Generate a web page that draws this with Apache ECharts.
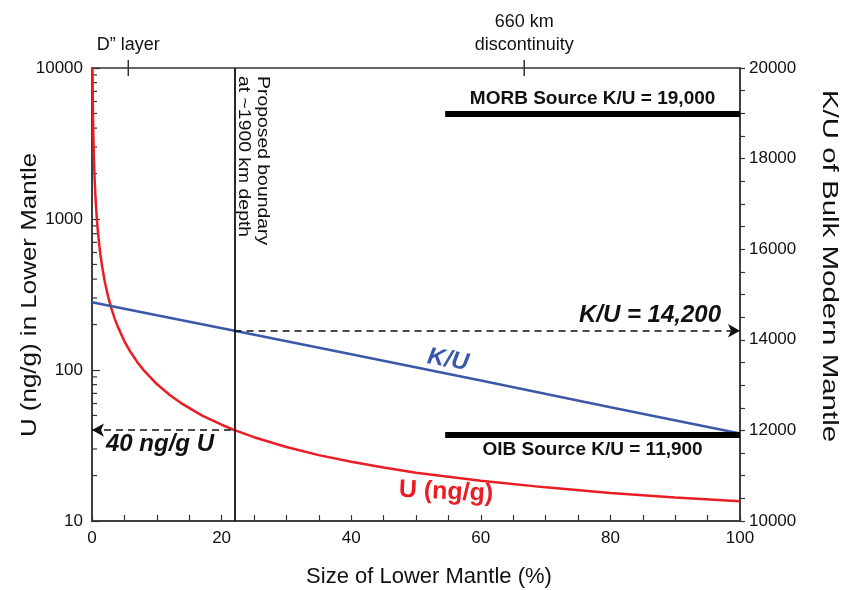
<!DOCTYPE html>
<html>
<head>
<meta charset="utf-8">
<script src="https://cdn.jsdelivr.net/npm/echarts@6/dist/echarts.min.js"></script>
<style>
  html, body { margin: 0; padding: 0; background: #fff; }
  #chart { width: 843px; height: 590px; }
</style>
</head>
<body>
<div id="chart"></div>
<script>
// U в нижней мантии (ng/g) по размеру нижней мантии (%)
const xU = [0.075, 0.09, 0.11, 0.13, 0.16, 0.2, 0.25, 0.3, 0.4, 0.5, 0.6, 0.75, 0.9, 1.1, 1.3, 1.6, 2, 2.5, 3, 3.5, 4, 5, 6, 7, 8, 10, 12, 14, 17, 20, 22, 25, 30, 35, 40, 45, 50, 60, 70, 80, 90, 100];
const uValues = [10000, 8306, 6797, 5752, 4675, 3741, 2994, 2496, 1874, 1500, 1251, 1002, 836, 685, 581, 473, 380, 305, 255, 219, 193, 155, 130.5, 112.7, 99.4, 80.7, 68.3, 59.4, 49.9, 43.4, 40, 35.9, 30.9, 27.3, 24.7, 22.6, 20.9, 18.5, 16.7, 15.3, 14.3, 13.5];

// K/U всей мантии
const xKU = [0, 10, 22, 40, 60, 80, 100];
const kuValues = [14830, 14540, 14200, 13680, 13100, 12510, 11930];

// Граница и источники
const boundaryX = 22;
const boundaryU = 40;
const boundaryKU = 14200;
const morbRange = [54.5, 100];
const morbKU = 19000;
const oibRange = [54.5, 100];
const oibKU = 11900;

// Метки на верхней оси
const topMarkX = [5.6, 66.7];
const topMarkNames = ["D\u201D layer", "660 km\ndiscontinuity"];

// Мелкие деления логарифмической оси
const logMinorTicks = [20, 30, 40, 50, 60, 70, 80, 90, 200, 300, 400, 500, 600, 700, 800, 900, 2000, 3000, 4000, 5000, 6000, 7000, 8000, 9000];

const FONT = "Liberation Sans, Arial, sans-serif";
const RED = "#ec1c24";
const BLUE = "#3b58a8";
const INK = "#111";

const chart = echarts.init(document.getElementById("chart"));

const option = {
    backgroundColor: "#fff",
    animation: false,
    textStyle: { fontFamily: FONT },
    grid: {
        left: 92, right: 103, top: 68, bottom: 69,
        show: true, borderColor: "#333", borderWidth: 1.5,
        outerBoundsMode: "none"
    },
    xAxis: {
        type: "value",
        min: 0, max: 100, interval: 20,
        name: "Size of Lower Mantle (%)",
        nameLocation: "middle",
        nameGap: 45,
        nameMoveOverlap: false,
        nameTextStyle: { fontSize: 22, color: INK, fontFamily: FONT, padding: [0, 0, 0, 26] },
        axisLine: { lineStyle: { color: "#333", width: 1.5 } },
        axisTick: { inside: true, length: 6, lineStyle: { color: "#333", width: 1.2 } },
        minorTick: { show: true, splitNumber: 4, length: 6, lineStyle: { color: "#333", width: 1.2 } },
        axisLabel: { fontSize: 17, color: INK, margin: 9, fontFamily: FONT },
        splitLine: { show: false }
    },
    yAxis: [
        {
            type: "log",
            logBase: 10,
            min: 10, max: 10000,
            position: "left",
            axisLine: { show: true, lineStyle: { color: "#333", width: 1.5 } },
            axisTick: { show: true, inside: true, length: 8, lineStyle: { color: "#333", width: 1.2 } },
            axisLabel: { fontSize: 17, color: INK, margin: 9, fontFamily: FONT, formatter: (v) => String(Math.round(v)) },
            splitLine: { show: false }
        },
        {
            type: "value",
            min: 10000, max: 20000, interval: 2000,
            position: "right",
            axisLine: { show: true, lineStyle: { color: "#333", width: 1.5 } },
            axisTick: { show: true, inside: false, length: 5, lineStyle: { color: "#333", width: 1.2 } },
            minorTick: { show: true, splitNumber: 4, length: 5, lineStyle: { color: "#333", width: 1.2 } },
            axisLabel: { fontSize: 17, color: INK, margin: 9, fontFamily: FONT, formatter: (v) => String(v) },
            splitLine: { show: false }
        }
    ],
    series: [
        {
            name: "U (ng/g)",
            type: "line",
            yAxisIndex: 0,
            data: xU.map((x, i) => [x, uValues[i]]),
            showSymbol: false,
            smooth: false,
            lineStyle: { color: RED, width: 2.5 },
            z: 3,
            markLine: {
                silent: true,
                animation: false,
                data: [
                    // вертикальная граница
                    [
                        { coord: [boundaryX, 10], symbol: "none", lineStyle: { type: "solid", color: "#111", width: 1.8 }, label: { show: false } },
                        { coord: [boundaryX, 10000], symbol: "none" }
                    ],
                    // стрелка 40 ng/g U
                    [
                        {
                            coord: [0, boundaryU], symbol: "arrow", symbolSize: [10, 12],
                            lineStyle: { type: [7, 5], color: "#111", width: 1.5 },
                            label: {
                                show: true, position: "insideStartBottom",
                                formatter: "40 ng/g U",
                                fontSize: 24, fontWeight: "bold", fontStyle: "italic",
                                color: "#111", fontFamily: FONT,
                                padding: [0, 0, 0, 12], distance: 2
                            }
                        },
                        { coord: [boundaryX, boundaryU], symbol: "none" }
                    ]
                ]
            }
        },
        {
            name: "K/U",
            type: "line",
            yAxisIndex: 1,
            data: xKU.map((x, i) => [x, kuValues[i]]),
            showSymbol: false,
            lineStyle: { color: BLUE, width: 2.5 },
            z: 4,
            markLine: {
                silent: true,
                animation: false,
                data: [
                    // стрелка K/U = 14,200
                    [
                        {
                            coord: [boundaryX, boundaryKU], symbol: "none",
                            lineStyle: { type: [7, 5], color: "#111", width: 1.5 },
                            label: {
                                show: true, position: "insideEndTop",
                                formatter: "K/U = 14,200",
                                fontSize: 24, fontWeight: "bold", fontStyle: "italic",
                                color: "#111", fontFamily: FONT,
                                padding: [0, 16, 0, 0], distance: 3
                            }
                        },
                        { coord: [100, boundaryKU], symbol: "arrow", symbolSize: [10, 12] }
                    ],
                    // MORB
                    [
                        {
                            coord: [morbRange[0], morbKU], symbol: "none",
                            lineStyle: { type: "solid", color: "#000", width: 6 },
                            label: {
                                show: true, position: "insideMiddleTop",
                                formatter: "MORB Source K/U = 19,000",
                                fontSize: 19, fontWeight: "bold", color: "#111",
                                fontFamily: FONT, distance: 5
                            }
                        },
                        { coord: [morbRange[1], morbKU], symbol: "none" }
                    ],
                    // OIB
                    [
                        {
                            coord: [oibRange[0], oibKU], symbol: "none",
                            lineStyle: { type: "solid", color: "#000", width: 6 },
                            label: {
                                show: true, position: "insideMiddleBottom",
                                formatter: "OIB Source K/U = 11,900",
                                fontSize: 19, fontWeight: "bold", color: "#111",
                                fontFamily: FONT, distance: 5
                            }
                        },
                        { coord: [oibRange[1], oibKU], symbol: "none" }
                    ]
                ]
            }
        },
        {
            // мелкие деления левой оси
            type: "scatter",
            yAxisIndex: 0,
            data: logMinorTicks.map((v) => [0, v]),
            symbol: "rect",
            symbolSize: [5, 1.2],
            symbolOffset: [2.5, 0],
            itemStyle: { color: "#333", opacity: 1 },
            clip: false,
            silent: true,
            z: 1
        },
        {
            // метки на верхней оси
            type: "scatter",
            yAxisIndex: 0,
            data: topMarkX.map((x, i) => ({ value: [x, 10000], name: topMarkNames[i] })),
            symbol: "rect",
            symbolSize: [1.5, 16],
            itemStyle: { color: "#333", opacity: 1 },
            clip: false,
            silent: true,
            label: {
                show: true, position: "top", distance: 3,
                formatter: (p) => p.name,
                fontSize: 18, color: INK, lineHeight: 23, fontFamily: FONT
            }
        }
    ],
    graphic: [
        {
            // подписи вертикальных осей (растянуты, как в оригинале)
            type: "text", x: 30, y: 295, rotation: Math.PI / 2, scaleX: 1.18,
            style: {
                text: "U (ng/g) in Lower Mantle",
                font: "22px " + FONT, fill: INK,
                align: "center", verticalAlign: "middle"
            }
        },
        {
            type: "text", x: 829, y: 266, rotation: -Math.PI / 2, scaleX: 1.34,
            style: {
                text: "K/U of Bulk Modern Mantle",
                font: "22px " + FONT, fill: INK,
                align: "center", verticalAlign: "middle"
            }
        },
        {
            type: "text", x: 272, y: 76, rotation: -Math.PI / 2, scaleX: 1.14,
            style: {
                text: "Proposed boundary\nat ~1900 km depth",
                font: "17px " + FONT, fill: "#111", lineHeight: 19,
                align: "left", verticalAlign: "top"
            }
        },
        {
            type: "text", x: 448, y: 360, rotation: -0.17,
            style: {
                text: "K/U",
                font: "bold italic 24px " + FONT, fill: BLUE,
                align: "center", verticalAlign: "middle"
            }
        },
        {
            type: "text", x: 446, y: 492, rotation: -0.05,
            style: {
                text: "U (ng/g)",
                font: "bold 25px " + FONT, fill: RED,
                align: "center", verticalAlign: "middle"
            }
        }
    ]
};

chart.setOption(option);
</script>
</body>
</html>
